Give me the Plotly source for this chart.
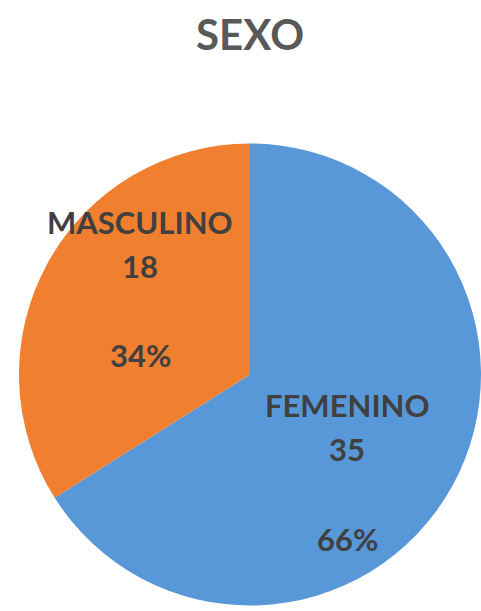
import plotly.graph_objects as go

categories = ["FEMENINO", "MASCULINO"]
counts = [35, 18]
colors = ["#5898d8", "#f07f30"]
title_text = "SEXO"

W, H = 481, 611
total = sum(counts)
percents = [round(100 * c / total) for c in counts]

fig = go.Figure(go.Pie(
    labels=categories,
    values=counts,
    sort=False,
    direction="clockwise",
    rotation=0,
    marker=dict(colors=colors, line=dict(width=0)),
    textinfo="none",
    hoverinfo="label+value+percent",
    showlegend=False,
    domain=dict(x=[19 / W, 1.0], y=[1 - 606 / H, 1 - 143 / H]),
))

# label layout (pixel positions of each label block's lines)
label_pos = {
    "FEMENINO": (347, [405, 449, 539]),
    "MASCULINO": (140, [222, 266, 355]),
}
font_lbl = dict(family="Lato", size=31, color="#404040")
for cat, cnt, pct in zip(categories, counts, percents):
    px, ys = label_pos[cat]
    for txt, py in zip([f"<b>{cat}</b>", f"<b>{cnt}</b>", f"<b>{pct}%</b>"], ys):
        fig.add_annotation(
            x=px / W, y=1 - py / H, xref="paper", yref="paper",
            text=txt, showarrow=False, font=font_lbl,
            xanchor="center", yanchor="middle",
        )

fig.add_annotation(
    x=250 / W, y=1 - 34 / H, xref="paper", yref="paper",
    text=f"<b>{title_text}</b>", showarrow=False,
    font=dict(family="Lato", size=42, color="#595959"),
    xanchor="center", yanchor="middle",
)

fig.update_layout(
    width=W, height=H,
    margin=dict(l=0, r=0, t=0, b=0),
    paper_bgcolor="white", plot_bgcolor="white",
)

fig.write_html(
    "out.html",
    config={"displayModeBar": False},
    post_script="document.body.style.margin='0px';document.body.style.padding='0px';",
)
